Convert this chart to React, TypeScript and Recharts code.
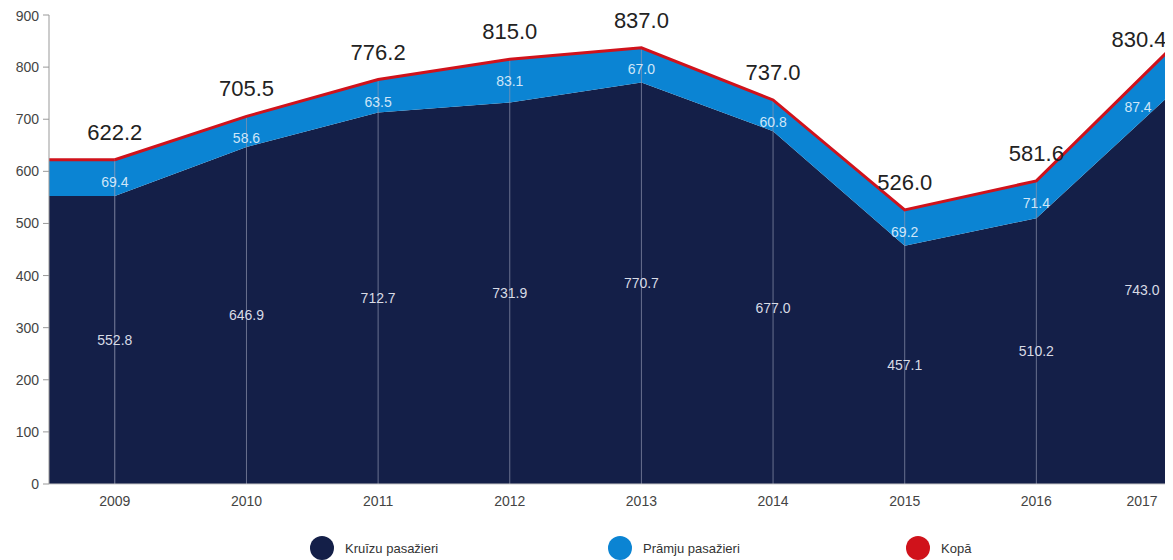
import {
  ComposedChart,
  Area,
  Line,
  XAxis,
  YAxis,
  LabelList,
  ReferenceArea,
  ReferenceLine,
} from "recharts";

const years = [2009, 2010, 2011, 2012, 2013, 2014, 2015, 2016, 2017];
const cruise = [552.8, 646.9, 712.7, 731.9, 770.7, 677.0, 457.1, 510.2, 743.0];
const ferry = [69.4, 58.6, 63.5, 83.1, 67.0, 60.8, 69.2, 71.4, 87.4];
const total = [622.2, 705.5, 776.2, 815.0, 837.0, 737.0, 526.0, 581.6, 830.4];
const yTicks = [0, 100, 200, 300, 400, 500, 600, 700, 800, 900];

const NAVY = "#141f48";
const BLUE = "#0b84d3";
const RED = "#d0121b";
const FONT = "'Liberation Sans', Arial, sans-serif";

const W = 1165;
const H = 510;
const M = { top: 7, right: 5, left: 0, bottom: 4 };
const PLOT_BOTTOM = H - M.bottom - 30;
const LAST = years.length - 1;
// the last column's labels sit a little inside the right edge, as in the original
const LAST_DX = -26;

const data = years.map((year, i) => ({
  year,
  cruise: cruise[i],
  ferry: ferry[i],
  total: total[i],
}));

const legendItems = [
  { label: "Kruīzu pasažieri", color: NAVY, left: 302 },
  { label: "Prāmju pasažieri", color: BLUE, left: 600 },
  { label: "Kopā", color: RED, left: 898 },
];

function shiftX(x: number, index: number) {
  return index === LAST ? x + LAST_DX : x;
}

function TotalLabel(props: any) {
  const { x, y, value, index } = props;
  const dy = index === LAST ? -4 : -20;
  return (
    <text x={shiftX(x, index) - (index === LAST ? 3 : 0)} y={y + dy} textAnchor="middle" fontSize={22} fill="#222" fontFamily={FONT}>
      {Number(value).toFixed(1)}
    </text>
  );
}

function FerryLabel(props: any) {
  const { x, y, value, index } = props;
  const dy = index === LAST ? 61 : 27;
  return (
    <text x={shiftX(x, index) - (index === LAST ? 4 : 0)} y={y + dy} textAnchor="middle" fontSize={14} fill="#cfe6f8" fontFamily={FONT}>
      {Number(value).toFixed(1)}
    </text>
  );
}

function CruiseLabel(props: any) {
  const { x, y, value, index } = props;
  return (
    <text x={shiftX(x, index)} y={(y + PLOT_BOTTOM) / 2 + 5} textAnchor="middle" fontSize={14} fill="#d8dbe5" fontFamily={FONT}>
      {Number(value).toFixed(1)}
    </text>
  );
}

function YearTick(props: any) {
  const { x, y, payload, index } = props;
  return (
    <text x={shiftX(x, index)} y={y + 14} textAnchor="middle" fontSize={14} fill="#444" fontFamily={FONT}>
      {payload.value}
    </text>
  );
}

export default function App() {
  const x0 = years[0] - 0.5;
  return (
    <div style={{ width: W, fontFamily: FONT }}>
      <ComposedChart width={W} height={H} data={data} margin={M}>
        <XAxis
          dataKey="year"
          type="number"
          domain={[x0, years[LAST]]}
          ticks={years}
          tick={<YearTick />}
          tickLine={false}
          axisLine={{ stroke: "#c8c8c8" }}
          height={30}
          interval={0}
        />
        <YAxis
          domain={[0, 900]}
          ticks={yTicks}
          width={41}
          tick={{ fontSize: 14, fill: "#444", fontFamily: FONT }}
          tickLine={{ stroke: "#999" }}
          axisLine={{ stroke: "#999" }}
          tickSize={6}
          tickMargin={4}
        />
        <ReferenceArea x1={x0} x2={years[0]} y1={0} y2={cruise[0]} fill={NAVY} fillOpacity={1} stroke="none" />
        <ReferenceArea x1={x0} x2={years[0]} y1={cruise[0]} y2={total[0]} fill={BLUE} fillOpacity={1} stroke="none" />
        <Area type="linear" dataKey="cruise" stackId="a" fill={NAVY} fillOpacity={1} stroke="none" isAnimationActive={false}>
          <LabelList dataKey="cruise" content={<CruiseLabel />} />
        </Area>
        <Area type="linear" dataKey="ferry" stackId="a" fill={BLUE} fillOpacity={1} stroke="none" isAnimationActive={false}>
          <LabelList dataKey="ferry" content={<FerryLabel />} />
        </Area>
        {years.map((yr, i) => (
          <ReferenceLine
            key={yr}
            segment={[{ x: yr, y: 0 }, { x: yr, y: total[i] }]}
            stroke="#8d93ad"
            strokeWidth={1}
            strokeOpacity={0.7}
          />
        ))}
        <ReferenceLine
          segment={[{ x: x0, y: total[0] }, { x: years[0], y: total[0] }]}
          stroke={RED}
          strokeWidth={3}
        />
        <Line type="linear" dataKey="total" stroke={RED} strokeWidth={3} dot={false} isAnimationActive={false}>
          <LabelList dataKey="total" content={<TotalLabel />} />
        </Line>
      </ComposedChart>
      <div style={{ position: "relative", height: 42 }}>
        {legendItems.map((item) => (
          <div key={item.label} style={{ position: "absolute", left: item.left, top: 18, display: "flex", alignItems: "center" }}>
            <span style={{ width: 24, height: 24, borderRadius: 12, background: item.color, display: "inline-block" }} />
            <span style={{ marginLeft: 11, fontSize: 13, color: "#333" }}>{item.label}</span>
          </div>
        ))}
      </div>
    </div>
  );
}
